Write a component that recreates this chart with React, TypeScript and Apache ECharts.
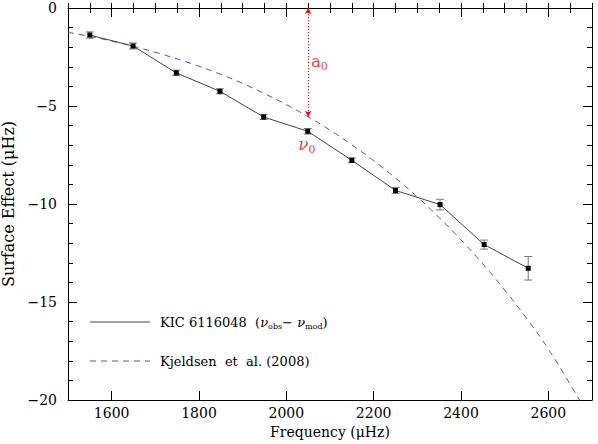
import React, { useEffect, useRef } from "react";
import * as echarts from "echarts";

const freq = [1550, 1649, 1748, 1848, 1948, 2049, 2150, 2250, 2352, 2453, 2554];
const surf = [-1.38, -1.94, -3.31, -4.25, -5.56, -6.29, -7.77, -9.31, -10.03, -12.07, -13.28];
const errs = [0.16, 0.15, 0.14, 0.13, 0.13, 0.14, 0.12, 0.15, 0.27, 0.23, 0.6];

const kjFreq = [1500, 1550, 1600, 1650, 1700, 1750, 1800, 1850, 1900, 1950, 2000, 2050, 2100, 2150, 2200, 2250, 2300, 2350, 2400, 2450, 2500, 2550, 2600, 2650, 2700];
const kjVal = [-1.24, -1.45, -1.69, -1.96, -2.26, -2.6, -2.97, -3.39, -3.85, -4.37, -4.93, -5.55, -6.23, -6.98, -7.79, -8.68, -9.64, -10.69, -11.83, -13.06, -14.39, -15.83, -17.4, -19.2, -21.1];

const xTicks = [1600, 1800, 2000, 2200, 2400, 2600];

const nu0 = 2050;
const a0 = -5.55;

const FONT = "DejaVu Serif";

export default function App() {
  const ref = useRef<HTMLDivElement>(null);
  useEffect(() => {
    const chart = echarts.init(ref.current!, null, { renderer: "svg" });
    const axisLine = { show: true, onZero: false, lineStyle: { color: "#000", width: 1 } };
    const majorTick = { show: true, inside: true, length: 9, lineStyle: { color: "#000" } };
    const minorTickAxis = (position: string) => ({
      type: "value", position, min: 1500, max: 2700, interval: 50,
      axisLine: { show: false },
      axisTick: { show: true, inside: true, length: 5, lineStyle: { color: "#000" } },
      axisLabel: { show: false },
      splitLine: { show: false },
    });
    const yFmt = (v: number) => (v < 0 ? "\u2212" + -v : String(v));
    chart.setOption({
      animation: false,
      backgroundColor: "#fff",
      grid: { left: 68, right: 6, top: 8, bottom: 44, outerBoundsMode: "none", containLabel: false },
      xAxis: [
        {
          type: "value", min: 1500, max: 2700, interval: 100,
          axisLine, splitLine: { show: false },
          axisTick: { ...majorTick, customValues: xTicks },
          axisLabel: { fontFamily: FONT, fontSize: 14, color: "#000", margin: 6, customValues: xTicks, formatter: (v: number) => String(v) },
          name: "Frequency (\u03bcHz)", nameLocation: "middle", nameGap: 18,
          nameTextStyle: { fontFamily: FONT, fontSize: 14, color: "#000" },
        },
        {
          type: "value", position: "top", min: 1500, max: 2700, interval: 100,
          axisLine, splitLine: { show: false },
          axisTick: { ...majorTick, customValues: xTicks },
          axisLabel: { show: false },
        },
        minorTickAxis("bottom"),
        minorTickAxis("top"),
      ],
      yAxis: [
        {
          type: "value", min: -20, max: 0, interval: 5,
          axisLine, splitLine: { show: false }, axisTick: majorTick,
          minorTick: { show: true, splitNumber: 5, length: 5, lineStyle: { color: "#000" } },
          axisLabel: { fontFamily: FONT, fontSize: 14, color: "#000", margin: 11, formatter: yFmt },
          name: "Surface Effect (\u03bcHz)", nameLocation: "middle", nameGap: 50, nameRotate: 90,
          nameTextStyle: { fontFamily: FONT, fontSize: 16, color: "#000" },
        },
        {
          type: "value", position: "right", min: -20, max: 0, interval: 5,
          axisLine, splitLine: { show: false }, axisTick: majorTick,
          minorTick: { show: true, splitNumber: 5, length: 5, lineStyle: { color: "#000" } },
          axisLabel: { show: false },
        },
      ],
      series: [
        {
          name: "Kjeldsen et al. (2008)",
          type: "line",
          data: kjFreq.map((f, i) => [f, kjVal[i]]),
          smooth: true,
          symbol: "none",
          clip: true,
          lineStyle: { color: "#4848ff", width: 1, type: [6, 5] },
          z: 2,
        },
        {
          name: "errors",
          type: "custom",
          data: freq.map((f, i) => [f, surf[i], errs[i]]),
          renderItem: (params: any, api: any) => {
            const x = api.value(0), y = api.value(1), e = api.value(2);
            const lo = api.coord([x, y - e]);
            const hi = api.coord([x, y + e]);
            const st = { stroke: "#777", lineWidth: 1 };
            return {
              type: "group",
              children: [
                { type: "line", shape: { x1: lo[0], y1: lo[1], x2: hi[0], y2: hi[1] }, style: st },
                { type: "line", shape: { x1: lo[0] - 4, y1: lo[1], x2: lo[0] + 4, y2: lo[1] }, style: st },
                { type: "line", shape: { x1: hi[0] - 4, y1: hi[1], x2: hi[0] + 4, y2: hi[1] }, style: st },
              ],
            };
          },
          z: 3,
        },
        {
          name: "KIC 6116048",
          type: "line",
          data: freq.map((f, i) => [f, surf[i]]),
          symbol: "rect",
          symbolSize: 5,
          itemStyle: { color: "#000" },
          lineStyle: { color: "#444", width: 1 },
          z: 4,
          markLine: {
            silent: true,
            symbol: ["arrow", "arrow"],
            symbolSize: [5, 6],
            label: { show: false },
            lineStyle: { color: "#ff0000", type: [1, 2], width: 1 },
            data: [[{ coord: [nu0, 0] }, { coord: [nu0, a0] }]],
          },
        },
        {
          name: "labels",
          type: "scatter",
          symbolSize: 0,
          data: [
            { value: [nu0, -2.75], label: { formatter: "{m|a}{s|0}", position: "right", distance: 3 } },
            { value: [nu0 - 3, -6.95], label: { formatter: "{i|\u03bd}{s|0}", position: "inside" } },
          ],
          label: {
            show: true,
            color: "#ff0000",
            rich: {
              m: { fontFamily: FONT, fontSize: 16, color: "#ff0000" },
              i: { fontFamily: FONT, fontSize: 17, fontStyle: "italic", color: "#ff0000" },
              s: { fontFamily: FONT, fontSize: 11, color: "#ff0000", padding: [10, 0, 0, 0] },
            },
          },
          z: 5,
        },
      ],
      graphic: [
        { type: "line", shape: { x1: 90, y1: 322, x2: 150, y2: 322 }, style: { stroke: "#444", lineWidth: 1 } },
        { type: "line", shape: { x1: 90, y1: 361, x2: 150, y2: 361 }, style: { stroke: "#4848ff", lineWidth: 1, lineDash: [6, 5] } },
        {
          type: "text", x: 160, y: 322,
          style: {
            text: "{n|KIC 6116048  (}{i|\u03bd}{s|obs}{n|\u2212 }{i|\u03bd}{s|mod}{n|)}",
            verticalAlign: "middle",
            rich: {
              n: { fontFamily: FONT, fontSize: 13, fill: "#000" },
              i: { fontFamily: FONT, fontSize: 13, fontStyle: "italic", fill: "#000" },
              s: { fontFamily: FONT, fontSize: 8, fill: "#000", padding: [8, 0, 0, 0] },
            },
          },
        },
        {
          type: "text", x: 160, y: 361,
          style: { text: "Kjeldsen  et  al. (2008)", fontFamily: FONT, fontSize: 13, fill: "#000", verticalAlign: "middle" },
        },
      ],
    });
    return () => chart.dispose();
  }, []);
  return <div ref={ref} style={{ position: "fixed", left: 0, top: 0, width: 598, height: 444 }} />;
}
